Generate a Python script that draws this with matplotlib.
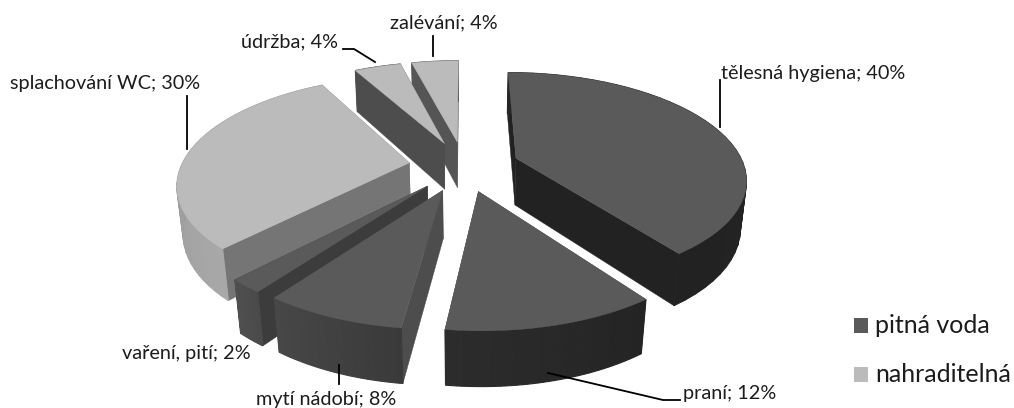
import matplotlib
matplotlib.use('Agg')
import matplotlib.pyplot as plt
from matplotlib.patches import Polygon, Rectangle
import numpy as np

# usage of water, shares in percent, clockwise from the top
labels = ['tělesná hygiena', 'praní', 'mytí nádobí', 'vaření, pití',
          'splachování WC', 'údržba', 'zalévání']
values = [40, 12, 8, 2, 30, 4, 4]
groups = ['pitná voda', 'pitná voda', 'pitná voda', 'pitná voda',
          'nahraditelná', 'nahraditelná', 'nahraditelná']

top_colors = {'pitná voda': '#5a5a5a', 'nahraditelná': '#bbbbbb'}
# shade of outer wall (start, end) and cut faces (start edge, end edge)
wall_colors = [('#262626', '#222222'), ('#242424', '#2c2c2c'), ('#3a3a3a', '#474747'),
               ('#4a4a4a', '#4f4f4f'), ('#a8a8a8', '#8f8f8f'), ('#4d4d4d', '#4d4d4d'),
               ('#555555', '#555555')]
cut_colors = [('#222222', '#222222'), ('#4d4d4d', '#4d4d4d'), ('#4d4d4d', '#4d4d4d'),
              ('#3c3c3c', '#3c3c3c'), ('#757575', '#757575'), ('#4d4d4d', '#4d4d4d'),
              ('#555555', '#555555')]

# camera of the fake 3d pie, in pixels
cx, cy = 464, 166
focal = 228
persp = 0.18
tilt = 0.455
height = 0.24
explode = 0.243


def project(x, y, z):
    w = 1 + persp * y - persp * 0.5 * z
    return cx + focal * x / w, cy - focal * (tilt * y + 0.88 * z) / w


def hex_mix(a, b, t):
    ca = np.array(matplotlib.colors.to_rgb(a))
    cb = np.array(matplotlib.colors.to_rgb(b))
    return ca + (cb - ca) * t


fig = plt.figure(figsize=(10.14, 4.08), dpi=100)
ax = fig.add_axes([0, 0, 1, 1])
ax.set_xlim(0, 1014)
ax.set_ylim(408, 0)
ax.axis('off')

plt.rcParams['font.family'] = ['Lato', 'DejaVu Sans']

edges = np.concatenate([[0], np.cumsum(values)]) / sum(values) * 2 * np.pi
# back slices first, front ones last
order = [6, 5, 4, 0, 3, 2, 1]

for i in order:
    a0, a1 = edges[i], edges[i + 1]
    mid = (a0 + a1) / 2
    ox, oy = explode * np.sin(mid), explode * np.cos(mid)
    angs = np.linspace(a0, a1, 40)
    xs = ox + np.sin(angs)
    ys = oy + np.cos(angs)

    # the two cut faces
    for ang, col in zip((a0, a1), cut_colors[i]):
        ex, ey = ox + np.sin(ang), oy + np.cos(ang)
        quad = [project(ox, oy, 0), project(ex, ey, 0),
                project(ex, ey, -height), project(ox, oy, -height)]
        ax.add_patch(Polygon(quad, closed=True, fc=col, ec=col, lw=0.3))

    # outer wall, small strips so the shade can change along it
    for k in range(len(angs) - 1):
        quad = [project(xs[k], ys[k], 0), project(xs[k + 1], ys[k + 1], 0),
                project(xs[k + 1], ys[k + 1], -height), project(xs[k], ys[k], -height)]
        col = hex_mix(wall_colors[i][0], wall_colors[i][1], k / (len(angs) - 2))
        ax.add_patch(Polygon(quad, closed=True, fc=col, ec=col, lw=0.8))

    # top face
    pts = [project(ox, oy, 0)] + [project(a, b, 0) for a, b in zip(xs, ys)]
    ax.add_patch(Polygon(pts, closed=True, fc=top_colors[groups[i]],
                         ec=top_colors[groups[i]], lw=0.3))

# data labels with their leader lines
text_kw = dict(fontsize=14.3, color='#1c1c1c', va='center')
label_pos = [(721, 74), (683, 394), (256, 399), (122, 353), (10, 84), (241, 42), (390, 23)]
leaders = [[(720, 80), (720, 127)],
           [(548, 373), (663, 400), (680, 400)],
           [(339, 365), (339, 384)],
           None,
           [(187, 96), (187, 149)],
           [(343, 49), (354, 49), (375, 62)],
           [(433, 36), (433, 56)]]
for name, val, pos, lead in zip(labels, values, label_pos, leaders):
    ax.text(pos[0], pos[1], f'{name}; {val}%', **text_kw)
    if lead is not None:
        ax.plot(*zip(*lead), color='black', lw=1.3)

# legend
legend_y = [325.5, 374.5]
for name, y in zip(['pitná voda', 'nahraditelná'], legend_y):
    ax.add_patch(Rectangle((854, y - 7.5), 14, 15, fc=top_colors[name], ec='none'))
    ax.text(875, y, name, fontsize=18, color='#1c1c1c', va='center')

fig.savefig('out.png', dpi=100)
